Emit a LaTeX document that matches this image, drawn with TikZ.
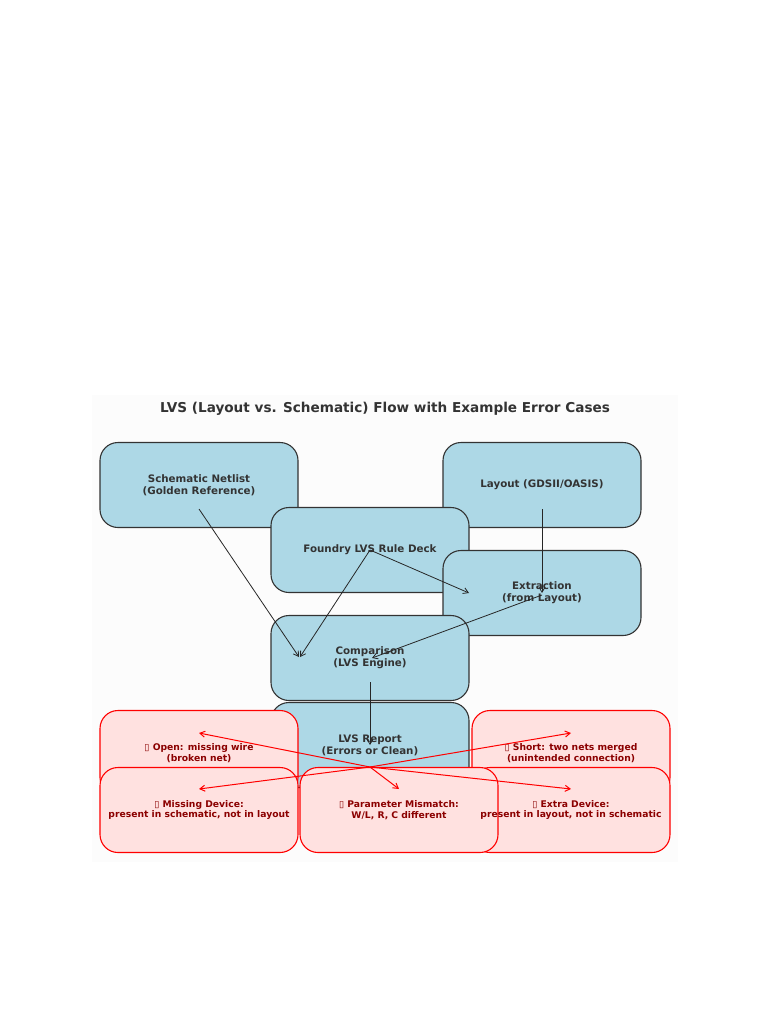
\documentclass[tikz,border=0pt]{standalone}
\usepackage{fontspec}
\setmainfont{DejaVu Sans}
\usetikzlibrary{arrows.meta, calc}
\definecolor{boxblue}{RGB}{173,216,230}
\definecolor{errfill}{RGB}{255,225,224}
\definecolor{errink}{RGB}{139,0,0}
\definecolor{boxink}{RGB}{51,51,51}
\newcommand{\tofu}{▯}
\begin{document}
\begin{tikzpicture}[
		x=1pt, y=-1pt,
		>={Straight Barb[length=5pt,width=6pt]},
		font=\bfseries,
		flowbox/.style={draw=black!80, line width=1.1pt, rounded corners=18pt, fill=boxblue, minimum width=198pt, minimum height=85pt, align=center, text=boxink, font=\fontsize{10.3}{12}\selectfont\bfseries},
		errbox/.style={draw=red, line width=1.1pt, rounded corners=18pt, fill=errfill, minimum width=198pt, minimum height=85pt},
		errlabel/.style={align=center, text=errink, font=\fontsize{9.2}{10.5}\selectfont\bfseries},
		flow/.style={->, line width=0.8pt, black!85},
		errflow/.style={->, line width=1pt, red}
		]
		
		\useasboundingbox (0,0) rectangle (768,1024);
		\fill[black!1] (92,395) rectangle (678,862);
		
		% =========================================================
		% 1. Title
		% =========================================================
		\node[text=boxink, font=\fontsize{13.6}{16}\selectfont\bfseries] (Title) at (385,409) {LVS (Layout vs. Schematic) Flow with Example Error Cases};
		
		% =========================================================
		% 2. Flow boxes
		% =========================================================
		\node[flowbox] (Schematic) at (199,485) {Schematic Netlist\\(Golden Reference)};
		\node[flowbox] (Layout) at (542,485) {Layout (GDSII/OASIS)};
		\node[flowbox] (RuleDeck) at (370,550) {Foundry LVS Rule Deck};
		\node[flowbox] (Extraction) at (542,593) {Extraction\\(from Layout)};
		\node[flowbox] (Comparison) at (370,658) {Comparison\\(LVS Engine)};
		\node[flowbox] (Report) at (370,745) {LVS Report\\(Errors or Clean)};
		
		% =========================================================
		% 3. Error cases (boxes first, texts on top)
		% =========================================================
		\node[errbox] (Open) at (199,753) {};
		\node[errbox] (Short) at (571,753) {};
		\node[errbox] (Missing) at (199,810) {};
		\node[errbox] (Extra) at (571,810) {};
		\node[errbox] (Param) at (399,810) {};
		
		\node[errlabel] (OpenText) at (Open) {\tofu{} Open: missing wire\\(broken net)};
		\node[errlabel] (ShortText) at (Short) {\tofu{} Short: two nets merged\\(unintended connection)};
		\node[errlabel] (MissingText) at (Missing) {\tofu{} Missing Device:\\present in schematic, not in layout};
		\node[errlabel] (ParamText) at (Param) {\tofu{} Parameter Mismatch:\\W/L, R, C different};
		\node[errlabel] (ExtraText) at (Extra) {\tofu{} Extra Device:\\present in layout, not in schematic};
		
		% =========================================================
		% 4. Connectors
		% =========================================================
		\draw[flow] ($(Schematic)+(0,24)$) -- ($(Comparison)+(-71,-1)$);
		\draw[flow] (RuleDeck.center) -- ($(Comparison)+(-70,-1)$);
		\draw[flow] (RuleDeck.center) -- ($(Extraction)+(-73,0)$);
		\draw[flow] ($(Layout)+(0,24)$) -- (Extraction.center);
		\draw[flow] ($(Extraction)+(0,2)$) -- ($(Comparison)+(2,0)$);
		\draw[flow] ($(Comparison)+(0,24)$) -- (Report.center);
		
		\coordinate (ReportOut) at ($(Report)+(0,22)$);
		\draw[errflow] (ReportOut) -- ($(Open)+(0,-20)$);
		\draw[errflow] (ReportOut) -- ($(Short)+(0,-20)$);
		\draw[errflow] (ReportOut) -- ($(Missing)+(0,-21)$);
		\draw[errflow] (ReportOut) -- ($(Param)+(0,-21)$);
		\draw[errflow] (ReportOut) -- ($(Extra)+(0,-21)$);
	\end{tikzpicture}
\end{document}
